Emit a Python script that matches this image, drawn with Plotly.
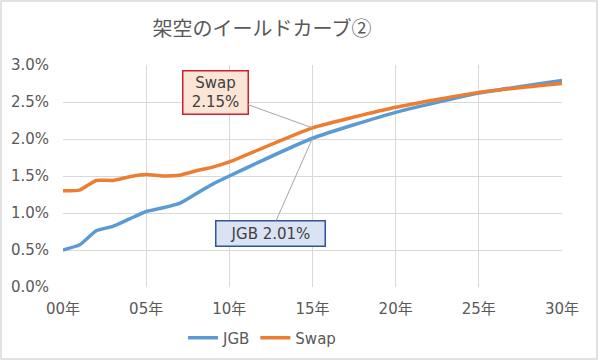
import plotly.graph_objects as go

# ---- data ----
years = [0, 1, 2, 3, 4, 5, 6, 7, 8, 9, 10, 15, 20, 25, 30]
jgb = [0.50, 0.57, 0.76, 0.82, 0.92, 1.02, 1.07, 1.13, 1.26, 1.39, 1.50, 2.01, 2.36, 2.62, 2.79]
swap = [1.30, 1.31, 1.44, 1.44, 1.49, 1.52, 1.50, 1.51, 1.57, 1.62, 1.69, 2.15, 2.43, 2.63, 2.75]
x_tick_vals = [0, 5, 10, 15, 20, 25, 30]
x_tick_text = ["00年", "05年", "10年", "15年", "20年", "25年", "30年"]
y_tick_vals = [0, 0.5, 1.0, 1.5, 2.0, 2.5, 3.0]
y_tick_text = ["0.0%", "0.5%", "1.0%", "1.5%", "2.0%", "2.5%", "3.0%"]
title_text = "架空のイールドカーブ②"
label_year = 15
jgb_label = "JGB 2.01%"
swap_label = "Swap<br>2.15%"

# ---- layout geometry ----
W, H = 600, 361
L, R, T, B = 63, 38, 65, 74
pw, ph = W - L - R, H - T - B

def px_x(p):
    return (p - L) / pw

def px_y(p):
    return (H - B - p) / ph

FONT = "DejaVu Sans, Noto Sans CJK JP, sans-serif"
GRAY = "#595959"
GRID = "#d9d9d9"

fig = go.Figure()
fig.add_trace(go.Scatter(x=years, y=jgb, name="JGB", mode="lines",
                         line=dict(color="#5b9bd5", width=3.5, shape="spline", smoothing=0.5)))
fig.add_trace(go.Scatter(x=years, y=swap, name="Swap", mode="lines",
                         line=dict(color="#ed7d31", width=3.5, shape="spline", smoothing=0.5)))

fig.update_layout(
    width=W, height=H, autosize=False,
    margin=dict(l=L, r=R, t=T, b=B, autoexpand=False),
    paper_bgcolor="white", plot_bgcolor="white",
    font=dict(family=FONT, size=15, color=GRAY),
    title=dict(text=title_text, x=262 / W, xanchor="center", xref="container",
               y=1 - 29 / H, yanchor="middle",
               font=dict(family="Noto Sans CJK JP, sans-serif", size=20, color=GRAY)),
    xaxis=dict(range=[0, 30], tickvals=x_tick_vals, ticktext=x_tick_text,
               showgrid=True, gridcolor=GRID, gridwidth=1, zeroline=False, automargin=False,
               showline=False, ticks="outside", ticklen=8, tickcolor="rgba(0,0,0,0)",
               tickfont=dict(size=15, color=GRAY)),
    yaxis=dict(range=[0, 3.0], tickvals=y_tick_vals, ticktext=y_tick_text,
               showgrid=True, gridcolor=GRID, gridwidth=1, zeroline=False, automargin=False,
               showline=False, ticks="outside", ticklen=10, tickcolor="rgba(0,0,0,0)",
               tickfont=dict(size=15, color=GRAY)),
    showlegend=True,
    legend=dict(orientation="h", x=px_x(262), xanchor="center", y=px_y(338), yanchor="middle",
                font=dict(size=15, color=GRAY), itemwidth=30, bgcolor="rgba(0,0,0,0)"),
)

# chart border
fig.add_shape(type="rect", xref="paper", yref="paper",
              x0=px_x(1), x1=px_x(597), y0=px_y(359), y1=px_y(1),
              line=dict(color=GRID, width=1.5), fillcolor="rgba(0,0,0,0)", layer="above")

# callouts
fig.add_annotation(x=label_year, y=swap[years.index(label_year)], xref="x", yref="y",
                   text=swap_label, showarrow=True, arrowhead=0, arrowwidth=1, arrowcolor="#a6a6a6",
                   axref="pixel", ayref="pixel", ax=215 - 312, ay=92 - 127,
                   width=60, height=38,
                   bgcolor="#fbe5d6", bordercolor="#d0202a", borderwidth=1.5, borderpad=2,
                   align="center", font=dict(size=15, color="#404040"))
fig.add_annotation(x=label_year, y=jgb[years.index(label_year)], xref="x", yref="y",
                   text=jgb_label, showarrow=True, arrowhead=0, arrowwidth=1, arrowcolor="#a6a6a6",
                   axref="pixel", ayref="pixel", ax=270 - 312, ay=232 - 137,
                   width=104, height=20,
                   bgcolor="#dae3f3", bordercolor="#2f5597", borderwidth=1.5, borderpad=2,
                   align="center", font=dict(size=15, color="#404040"))

fig.write_html("out.html", config={"displayModeBar": False},
               post_script="document.body.style.margin='0';")
